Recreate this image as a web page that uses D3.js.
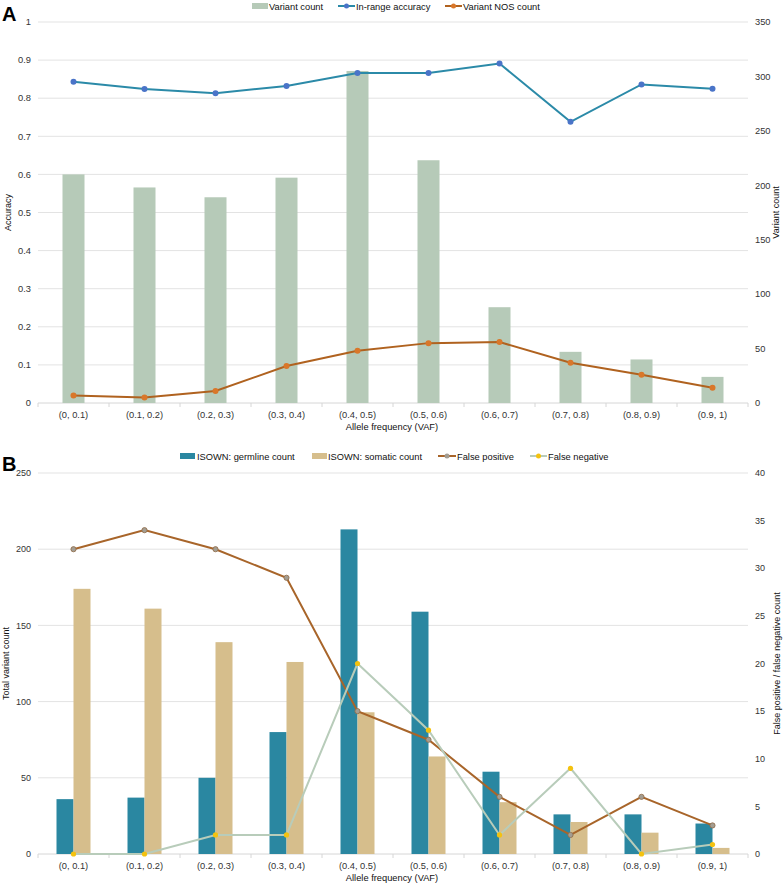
<!DOCTYPE html>
<html><head><meta charset="utf-8">
<script src="https://cdn.jsdelivr.net/npm/d3@7"></script>
<style>body{margin:0;background:#fff}svg{display:block;font-family:"Liberation Sans",Arial,sans-serif}</style>
</head><body><svg id="c" width="784" height="884"></svg>
<script>
const categories = ["(0, 0.1)","(0.1, 0.2)","(0.2, 0.3)","(0.3, 0.4)","(0.4, 0.5)","(0.5, 0.6)","(0.6, 0.7)","(0.7, 0.8)","(0.8, 0.9)","(0.9, 1)"];
// Panel A
const variantCount = [210,198,189,207,305,223,88,47,40,24];
const inRangeAccuracy = [0.843,0.824,0.813,0.832,0.866,0.866,0.891,0.738,0.836,0.825];
const variantNOSCount = [7,5,11,34,48,55,56,37,26,14];
const accTicks = [0,0.1,0.2,0.3,0.4,0.5,0.6,0.7,0.8,0.9,1];
const countTicksA = [0,50,100,150,200,250,300,350];
// Panel B
const germlineCount = [36,37,50,80,213,159,54,26,26,20];
const somaticCount = [174,161,139,126,93,64,34,21,14,4];
const falsePositive = [32,34,32,29,15,12,6,2,6,3];
const falseNegative = [0,0,2,2,20,13,2,9,0,1];
const totalTicks = [0,50,100,150,200,250];
const fpTicks = [0,5,10,15,20,25,30,35,40];

const svg = d3.select("#c");
const grid = "#e3e3e3", axisC = "#d6d6d6", txt = "#333";
const FS = 9.3;

function panel(o){
  const g = svg.append("g");
  const x = d3.scaleBand().domain(categories).range([38,748]);
  const yL = d3.scaleLinear().domain(o.lDomain).range([o.y0,o.y1]);
  const yR = d3.scaleLinear().domain(o.rDomain).range([o.y0,o.y1]);
  g.selectAll(".gl").data(o.lTicks.filter(t=>t!==0)).join("line")
    .attr("x1",38).attr("x2",748).attr("y1",d=>yL(d)).attr("y2",d=>yL(d))
    .attr("stroke",grid).attr("stroke-width",1);
  g.append("line").attr("x1",38).attr("x2",748).attr("y1",o.y0).attr("y2",o.y0).attr("stroke",axisC);
  g.selectAll(".tk").data(categories.map(c=>x(c)).concat([748])).join("line")
    .attr("x1",d=>d).attr("x2",d=>d).attr("y1",o.y0).attr("y2",o.y0+4).attr("stroke",axisC);
  g.selectAll(".lt").data(o.lTicks).join("text")
    .attr("x",31).attr("y",d=>yL(d)).attr("dy","0.35em").attr("text-anchor","end")
    .attr("font-size",o.tickSize).attr("fill",txt).text(o.lFmt);
  g.selectAll(".rt").data(o.rTicks).join("text")
    .attr("x",755).attr("y",d=>yR(d)).attr("dy","0.35em").attr("text-anchor","start")
    .attr("font-size",o.tickSize).attr("fill",txt).text(d=>d);
  g.selectAll(".xl").data(categories).join("text")
    .attr("x",d=>x(d)+x.bandwidth()/2).attr("y",o.y0+14.5).attr("text-anchor","middle")
    .attr("font-size",FS).attr("fill",txt).text(d=>d);
  g.append("text").attr("x",392).attr("y",o.y0+27).attr("text-anchor","middle")
    .attr("font-size",FS).attr("fill","#111").text("Allele frequency (VAF)");
  const mid = (o.y0+o.y1)/2;
  g.append("text").attr("transform",`translate(${o.lTitleX},${mid}) rotate(-90)`).attr("text-anchor","middle")
    .attr("font-size",9).attr("fill","#111").text(o.lTitle);
  g.append("text").attr("transform",`translate(${o.rTitleX},${mid}) rotate(-90)`).attr("text-anchor","middle")
    .attr("font-size",9).attr("fill","#111").text(o.rTitle);
  return {g,x,yL,yR};
}

function lineSeries(g,x,y,vals,stroke,fill,r,width,mstroke){
  const line = d3.line().x((d,i)=>x(categories[i])+x.bandwidth()/2).y(d=>y(d));
  g.append("path").datum(vals).attr("d",line).attr("fill","none").attr("stroke",stroke).attr("stroke-width",width);
  g.selectAll(null).data(vals).join("circle")
    .attr("cx",(d,i)=>x(categories[i])+x.bandwidth()/2).attr("cy",d=>y(d)).attr("r",r)
    .attr("fill",fill).attr("stroke",mstroke||"none").attr("stroke-width",mstroke?0.8:0);
}

// ---------- Panel A ----------
const A = panel({y0:403,y1:22,lDomain:[0,1],rDomain:[0,350],lTicks:accTicks,rTicks:countTicksA,
  lFmt:d=>d===0||d===1?d:d.toFixed(1),tickSize:FS,lTitle:"Accuracy",rTitle:"Variant count",lTitleX:11,rTitleX:779});
A.g.selectAll(".barA").data(variantCount).join("rect")
  .attr("x",(d,i)=>A.x(categories[i])+A.x.bandwidth()/2-11).attr("width",22)
  .attr("y",d=>A.yR(d)).attr("height",d=>403-A.yR(d)).attr("fill","#b6cab8");
lineSeries(A.g,A.x,A.yL,inRangeAccuracy,"#2b8aa8","#4a74c8",3,2);
lineSeries(A.g,A.x,A.yR,variantNOSCount,"#b0621f","#d9772a",3,2);
svg.append("text").attr("x",2).attr("y",21).attr("font-size",20).attr("font-weight","bold").text("A");

const lgA = svg.append("g").attr("font-size",FS).attr("fill","#111");
lgA.append("rect").attr("x",252).attr("y",3).attr("width",16).attr("height",6).attr("fill","#b6cab8");
lgA.append("text").attr("x",269).attr("y",9.5).text("Variant count");
lgA.append("line").attr("x1",338).attr("x2",355).attr("y1",6).attr("y2",6).attr("stroke","#2b8aa8").attr("stroke-width",2);
lgA.append("circle").attr("cx",346.5).attr("cy",6).attr("r",2.5).attr("fill","#4a74c8");
lgA.append("text").attr("x",356).attr("y",9.5).text("In-range accuracy");
lgA.append("line").attr("x1",445).attr("x2",462).attr("y1",6).attr("y2",6).attr("stroke","#b0621f").attr("stroke-width",2);
lgA.append("circle").attr("cx",453.5).attr("cy",6).attr("r",2.5).attr("fill","#d9772a");
lgA.append("text").attr("x",463).attr("y",9.5).text("Variant NOS count");

// ---------- Panel B ----------
const B = panel({y0:854,y1:473,lDomain:[0,250],rDomain:[0,40],lTicks:totalTicks,rTicks:fpTicks,
  lFmt:d=>d,tickSize:9,lTitle:"Total variant count",rTitle:"False positive / false negative count",lTitleX:9,rTitleX:780});
B.g.selectAll(".bg").data(germlineCount).join("rect")
  .attr("x",(d,i)=>B.x(categories[i])+B.x.bandwidth()/2-17).attr("width",17)
  .attr("y",d=>B.yL(d)).attr("height",d=>854-B.yL(d)).attr("fill","#2a87a1");
B.g.selectAll(".bs").data(somaticCount).join("rect")
  .attr("x",(d,i)=>B.x(categories[i])+B.x.bandwidth()/2).attr("width",17)
  .attr("y",d=>B.yL(d)).attr("height",d=>854-B.yL(d)).attr("fill","#d6be8c");
lineSeries(B.g,B.x,B.yR,falsePositive,"#a8652a","#a39d92",2.6,2,"#8f6a45");
lineSeries(B.g,B.x,B.yR,falseNegative,"#b8ccba","#f4c20f",2.6,2);
svg.append("text").attr("x",2).attr("y",471).attr("font-size",20).attr("font-weight","bold").text("B");

const lgB = svg.append("g").attr("font-size",FS).attr("fill","#111");
lgB.append("rect").attr("x",180).attr("y",453).attr("width",15).attr("height",6).attr("fill","#2a87a1");
lgB.append("text").attr("x",197).attr("y",459.5).text("ISOWN: germline count");
lgB.append("rect").attr("x",312).attr("y",453).attr("width",15).attr("height",6).attr("fill","#d6be8c");
lgB.append("text").attr("x",328).attr("y",459.5).text("ISOWN: somatic count");
lgB.append("line").attr("x1",438).attr("x2",456).attr("y1",456).attr("y2",456).attr("stroke","#a8652a").attr("stroke-width",2);
lgB.append("circle").attr("cx",447).attr("cy",456).attr("r",2.5).attr("fill","#a39d92");
lgB.append("text").attr("x",457).attr("y",459.5).text("False positive");
lgB.append("line").attr("x1",530).attr("x2",547).attr("y1",456).attr("y2",456).attr("stroke","#b8ccba").attr("stroke-width",2);
lgB.append("circle").attr("cx",538.5).attr("cy",456).attr("r",2.5).attr("fill","#f4c20f");
lgB.append("text").attr("x",548).attr("y",459.5).text("False negative");
</script></body></html>
